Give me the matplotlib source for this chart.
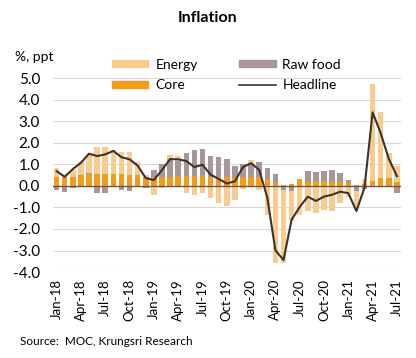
import matplotlib.pyplot as plt
import matplotlib.patches as mpatches
import matplotlib.lines as mlines
import numpy as np
import pandas as pd

months = list(pd.date_range('2018-01-01', periods=43, freq='MS').strftime('%b-%y'))

headline = [0.68, 0.42, 0.78, 1.07, 1.49, 1.38, 1.46, 1.62, 1.33, 1.23, 0.94, 0.36,
            0.27, 0.73, 1.24, 1.23, 1.15, 0.87, 0.98, 0.52, 0.32, 0.11, 0.21, 0.87,
            1.05, 0.74, -0.54, -2.99, -3.44, -1.57, -0.98, -0.50, -0.70, -0.50, -0.41, -0.27,
            -0.34, -1.17, -0.08, 3.41, 2.44, 1.25, 0.45]
core = [0.40, 0.40, 0.40, 0.52, 0.56, 0.55, 0.55, 0.55, 0.55, 0.52, 0.48, 0.43,
        0.42, 0.43, 0.43, 0.45, 0.45, 0.44, 0.44, 0.43, 0.43, 0.42, 0.40, 0.42,
        0.40, 0.40, 0.33, 0.15, 0.05, 0.08, 0.30, 0.20, 0.22, 0.22, 0.20, 0.20,
        0.15, 0.05, 0.10, 0.23, 0.36, 0.36, 0.18]
raw_food = [-0.19, -0.30, -0.10, 0.0, 0.02, -0.32, -0.32, 0.0, -0.20, -0.25, 0.0, -0.10,
            0.32, 0.60, 0.81, 0.68, 1.07, 1.22, 1.26, 0.97, 0.93, 0.84, 0.50, 0.60,
            0.62, 0.69, 0.49, 0.41, -0.20, -0.22, 0.0, 0.51, 0.40, 0.45, 0.54, 0.39,
            0.10, -0.26, -0.15, 0.0, 0.0, 0.0, -0.31]
energy = [0.42, 0.05, 0.35, 0.59, 0.88, 1.25, 1.25, 1.12, 1.00, 1.03, 0.62, 0.05,
          -0.43, -0.12, 0.20, 0.27, -0.32, -0.42, -0.34, -0.57, -0.80, -0.93, -0.65, -0.15,
          0.16, -0.19, -1.35, -3.58, -3.37, -1.40, -1.35, -1.19, -1.27, -1.12, -1.15, -0.80,
          -0.50, -0.73, 0.20, 4.51, 3.05, 1.16, 0.72]

c_energy = '#F9CB8F'
c_raw = '#A8979A'
c_core = '#F49B1C'
c_head = '#3E3129'

plt.rcParams['font.family'] = ['Lato', 'DejaVu Sans']

fig = plt.figure(figsize=(4.16, 3.58), dpi=100)
ax = fig.add_axes([0.1264, 0.240, 0.8375, 0.542])

x = np.arange(len(months))
pos = np.zeros(len(months))
neg = np.zeros(len(months))
for vals, col in [(core, c_core), (raw_food, c_raw), (energy, c_energy)]:
    v = np.array(vals)
    bottom = np.where(v >= 0, pos, neg)
    ax.bar(x, v, 0.68, bottom=bottom, color=col, zorder=2)
    pos = pos + np.clip(v, 0, None)
    neg = neg + np.clip(v, None, 0)

ax.plot(x, headline, color=c_head, lw=1.5, zorder=4)
ax.axhline(0, color='#6B5641', lw=1.0, zorder=3)

ax.set_xlim(-0.5, len(months) - 0.5)
ax.set_ylim(-4, 5)
ax.set_yticks(np.arange(-4, 6, 1))
ax.set_yticklabels(['%.1f' % v for v in np.arange(-4, 6, 1)], fontsize=11)
ax.set_xticks(x[::3])
ax.set_xticklabels(months[::3], rotation=90, fontsize=9.5)
ax.tick_params(length=0, pad=5)
ax.tick_params(axis='y', pad=9)
ax.grid(axis='y', color='#D9D9D9', lw=0.8, zorder=0)
for s in ax.spines.values():
    s.set_visible(False)

h_energy = mpatches.Patch(color=c_energy, label='Energy')
h_raw = mpatches.Patch(color=c_raw, label='Raw food')
h_core = mpatches.Patch(color=c_core, label='Core')
h_head = mlines.Line2D([], [], color=c_head, lw=1.2, label='Headline')
fig.legend(handles=[h_energy, h_core, h_raw, h_head], ncol=2, loc='center',
           bbox_to_anchor=(0.545, 0.79), frameon=False, fontsize=10,
           handlelength=2.6, handleheight=0.4, columnspacing=3.0,
           handletextpad=0.5, labelspacing=0.62)

fig.text(0.5, 0.95, 'Inflation', ha='center', va='center', fontsize=11.5,
         fontweight='bold')
fig.text(0.035, 0.84, '%, ppt', ha='left', va='center', fontsize=10)
fig.text(0.048, 0.045, 'Source:  MOC, Krungsri Research', ha='left', va='center',
         fontsize=8.5)

plt.savefig('out.png', dpi=100)
